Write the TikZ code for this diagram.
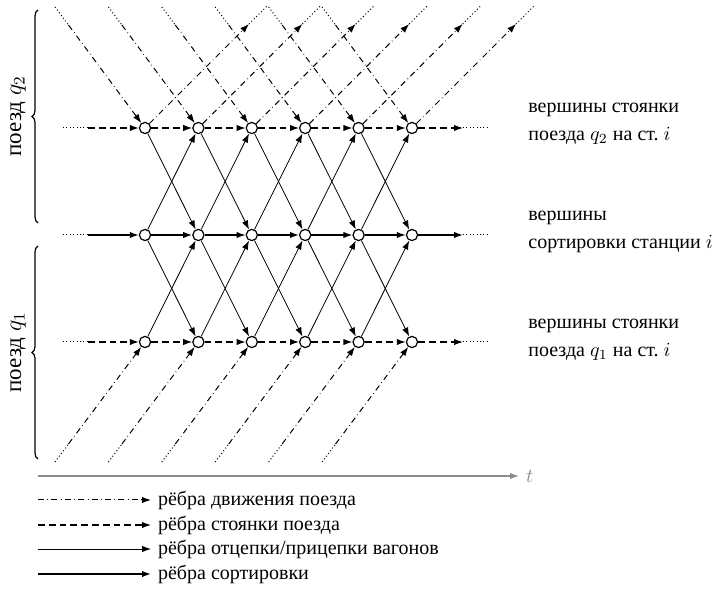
\documentclass[tikz,border=0pt]{standalone}
\usepackage{fontspec}
\setmainfont{Liberation Serif}
\usetikzlibrary{decorations.pathreplacing,arrows.meta}

\tikzset{
  vertex/.style={circle,draw,line width=0.6pt,fill=white,inner sep=0pt,minimum size=5.6pt},
  move/.style={line width=0.5pt,dash pattern=on 3pt off 1.7pt on 0.3pt off 1.7pt,-{Latex[length=4.5pt,width=3.2pt]}},
  stand/.style={line width=0.6pt,dash pattern=on 3.4pt off 2pt,-{Latex[length=4.5pt,width=3.2pt]}},
  shunt/.style={line width=0.4pt,-{Latex[length=4.5pt,width=3.2pt]}},
  sorting/.style={line width=0.7pt,-{Latex[length=4.5pt,width=3.2pt]}},
  dotline/.style={line width=0.5pt,dash pattern=on 0.5pt off 1.2pt},
  rowlabel/.style={anchor=west,align=left,inner sep=0pt},
  trainlabel/.style={rotate=90,font=\fontsize{11.5}{13}\selectfont},
}

\begin{document}
\begin{tikzpicture}[x=0.5pt,y=-0.5pt]
\useasboundingbox (0,0) rectangle (713,614);
% Drawing vertices
% Column 1
\node[vertex] (top1) at (145,128) {};
\node[vertex] (mid1) at (145,235) {};
\node[vertex] (bot1) at (145,342) {};
% Column 2
\node[vertex] (top2) at (198.4,128) {};
\node[vertex] (mid2) at (198.4,235) {};
\node[vertex] (bot2) at (198.4,342) {};
% Column 3
\node[vertex] (top3) at (251.8,128) {};
\node[vertex] (mid3) at (251.8,235) {};
\node[vertex] (bot3) at (251.8,342) {};
% Column 4
\node[vertex] (top4) at (305.2,128) {};
\node[vertex] (mid4) at (305.2,235) {};
\node[vertex] (bot4) at (305.2,342) {};
% Column 5
\node[vertex] (top5) at (358.6,128) {};
\node[vertex] (mid5) at (358.6,235) {};
\node[vertex] (bot5) at (358.6,342) {};
% Column 6
\node[vertex] (top6) at (412,128) {};
\node[vertex] (mid6) at (412,235) {};
\node[vertex] (bot6) at (412,342) {};
% Done with vertices; drawing free ends
\coordinate (topin) at (63,128);
\coordinate (topinb) at (88,128);
\coordinate (topout) at (463,128);
\coordinate (topoutb) at (490,128);
\coordinate (midin) at (63,235);
\coordinate (midinb) at (88,235);
\coordinate (midout) at (463,235);
\coordinate (midoutb) at (490,235);
\coordinate (botin) at (63,342);
\coordinate (botinb) at (88,342);
\coordinate (botout) at (463,342);
\coordinate (botoutb) at (490,342);
% arrivals of q2 (from above)
\coordinate (arr1) at (55,7);
\coordinate (arrb1) at (68.5,25);
\coordinate (arr2) at (108.4,7);
\coordinate (arrb2) at (121.9,25);
\coordinate (arr3) at (161.8,7);
\coordinate (arrb3) at (175.3,25);
\coordinate (arr4) at (215.2,7);
\coordinate (arrb4) at (228.7,25);
\coordinate (arr5) at (268.6,7);
\coordinate (arrb5) at (282.1,25);
\coordinate (arr6) at (322,7);
\coordinate (arrb6) at (335.5,25);
% departures of q2 (to above)
\coordinate (dep1) at (249,24);
\coordinate (depb1) at (268,5);
\coordinate (dep2) at (302.4,24);
\coordinate (depb2) at (321.4,5);
\coordinate (dep3) at (355.8,24);
\coordinate (depb3) at (374.8,5);
\coordinate (dep4) at (409.2,24);
\coordinate (depb4) at (428.2,5);
\coordinate (dep5) at (462.6,24);
\coordinate (depb5) at (481.6,5);
\coordinate (dep6) at (516,24);
\coordinate (depb6) at (535,5);
% arrivals of q1 (from below)
\coordinate (low1) at (55,462);
\coordinate (lowb1) at (68.5,444);
\coordinate (low2) at (108.4,462);
\coordinate (lowb2) at (121.9,444);
\coordinate (low3) at (161.8,462);
\coordinate (lowb3) at (175.3,444);
\coordinate (low4) at (215.2,462);
\coordinate (lowb4) at (228.7,444);
\coordinate (low5) at (268.6,462);
\coordinate (lowb5) at (282.1,444);
\coordinate (low6) at (322,462);
\coordinate (lowb6) at (335.5,444);
% Drawing rows
% Row q2: stand edges
\draw[dotline] (topin) -- (topinb);
\draw[stand] (topinb) -- (top1);
\draw[stand] (top1) -- (top2);
\draw[stand] (top2) -- (top3);
\draw[stand] (top3) -- (top4);
\draw[stand] (top4) -- (top5);
\draw[stand] (top5) -- (top6);
\draw[stand] (top6) -- (topout);
\draw[dotline] (topout) -- (topoutb);
% Row of sorting
\draw[dotline] (midin) -- (midinb);
\draw[sorting] (midinb) -- (mid1);
\draw[sorting] (mid1) -- (mid2);
\draw[sorting] (mid2) -- (mid3);
\draw[sorting] (mid3) -- (mid4);
\draw[sorting] (mid4) -- (mid5);
\draw[sorting] (mid5) -- (mid6);
\draw[sorting] (mid6) -- (midout);
\draw[dotline] (midout) -- (midoutb);
% Row q1: stand edges
\draw[dotline] (botin) -- (botinb);
\draw[stand] (botinb) -- (bot1);
\draw[stand] (bot1) -- (bot2);
\draw[stand] (bot2) -- (bot3);
\draw[stand] (bot3) -- (bot4);
\draw[stand] (bot4) -- (bot5);
\draw[stand] (bot5) -- (bot6);
\draw[stand] (bot6) -- (botout);
\draw[dotline] (botout) -- (botoutb);
% Done with rows; drawing shunting edges
\draw[shunt] (top1) -- (mid2);
\draw[shunt] (mid1) -- (top2);
\draw[shunt] (mid1) -- (bot2);
\draw[shunt] (bot1) -- (mid2);
\draw[shunt] (top2) -- (mid3);
\draw[shunt] (mid2) -- (top3);
\draw[shunt] (mid2) -- (bot3);
\draw[shunt] (bot2) -- (mid3);
\draw[shunt] (top3) -- (mid4);
\draw[shunt] (mid3) -- (top4);
\draw[shunt] (mid3) -- (bot4);
\draw[shunt] (bot3) -- (mid4);
\draw[shunt] (top4) -- (mid5);
\draw[shunt] (mid4) -- (top5);
\draw[shunt] (mid4) -- (bot5);
\draw[shunt] (bot4) -- (mid5);
\draw[shunt] (top5) -- (mid6);
\draw[shunt] (mid5) -- (top6);
\draw[shunt] (mid5) -- (bot6);
\draw[shunt] (bot5) -- (mid6);
% Done with shunting; drawing train movement
\draw[dotline] (arr1) -- (arrb1);
\draw[move] (arrb1) -- (top1);
\draw[move] (top1) -- (dep1);
\draw[dotline] (dep1) -- (depb1);
\draw[dotline] (low1) -- (lowb1);
\draw[move] (lowb1) -- (bot1);
\draw[dotline] (arr2) -- (arrb2);
\draw[move] (arrb2) -- (top2);
\draw[move] (top2) -- (dep2);
\draw[dotline] (dep2) -- (depb2);
\draw[dotline] (low2) -- (lowb2);
\draw[move] (lowb2) -- (bot2);
\draw[dotline] (arr3) -- (arrb3);
\draw[move] (arrb3) -- (top3);
\draw[move] (top3) -- (dep3);
\draw[dotline] (dep3) -- (depb3);
\draw[dotline] (low3) -- (lowb3);
\draw[move] (lowb3) -- (bot3);
\draw[dotline] (arr4) -- (arrb4);
\draw[move] (arrb4) -- (top4);
\draw[move] (top4) -- (dep4);
\draw[dotline] (dep4) -- (depb4);
\draw[dotline] (low4) -- (lowb4);
\draw[move] (lowb4) -- (bot4);
\draw[dotline] (arr5) -- (arrb5);
\draw[move] (arrb5) -- (top5);
\draw[move] (top5) -- (dep5);
\draw[dotline] (dep5) -- (depb5);
\draw[dotline] (low5) -- (lowb5);
\draw[move] (lowb5) -- (bot5);
\draw[dotline] (arr6) -- (arrb6);
\draw[move] (arrb6) -- (top6);
\draw[move] (top6) -- (dep6);
\draw[dotline] (dep6) -- (depb6);
\draw[dotline] (low6) -- (lowb6);
\draw[move] (lowb6) -- (bot6);
% Done with movement; drawing braces and labels
\draw[line width=0.6pt,decorate,decoration={brace,amplitude=3pt}] (38,223) -- (38,10);
\node[trainlabel] (trainb) at (18,116) {поезд $q_2$};
\draw[line width=0.6pt,decorate,decoration={brace,amplitude=3pt}] (38,459) -- (38,246);
\node[trainlabel] (traina) at (18,352) {поезд $q_1$};
\node[rowlabel] (labtop) at (528,124) {вершины стоянки\\[2pt]поезда $q_2$ на ст.~$i$};
\node[rowlabel] (labmid) at (528,232) {вершины\\[2pt]сортировки станции $i$};
\node[rowlabel] (labbot) at (528,340) {вершины стоянки\\[2pt]поезда $q_1$ на ст.~$i$};
% Time axis
\coordinate (axisstart) at (38,476);
\coordinate (axisend) at (519,476);
\draw[black!45,line width=0.6pt,-{Latex[length=4.5pt,width=3.2pt]}] (axisstart) -- (axisend);
\node[black!45,anchor=west] (tlabel) at (axisend) {$t$};
% Legend
\coordinate (lega) at (38,500);
\coordinate (legaa) at (151,500);
\coordinate (legb) at (38,525);
\coordinate (legbb) at (151,525);
\coordinate (legc) at (38,549);
\coordinate (legcc) at (151,549);
\coordinate (legd) at (38,574);
\coordinate (legdd) at (151,574);
\draw[move] (lega) -- (legaa);
\node[anchor=west] (texta) at (legaa) {рёбра движения поезда};
\draw[stand] (legb) -- (legbb);
\node[anchor=west] (textb) at (legbb) {рёбра стоянки поезда};
\draw[shunt] (legc) -- (legcc);
\node[anchor=west] (textc) at (legcc) {рёбра отцепки/прицепки вагонов};
\draw[sorting] (legd) -- (legdd);
\node[anchor=west] (textd) at (legdd) {рёбра сортировки};
% Done with legend
\end{tikzpicture}
\end{document}
